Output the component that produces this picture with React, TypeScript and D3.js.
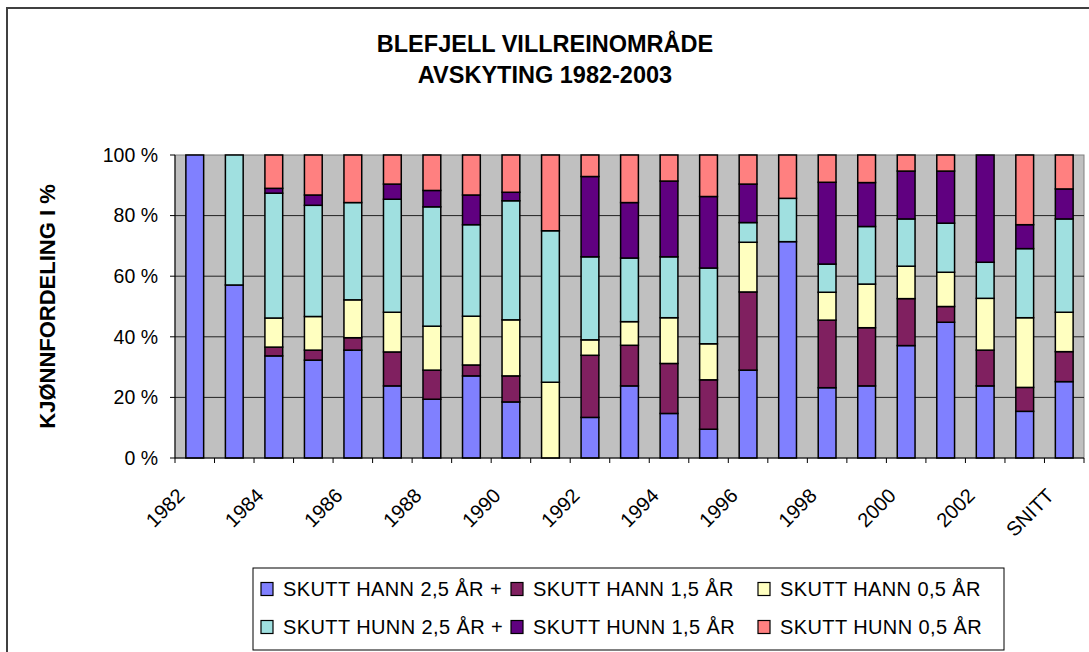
import React from 'react';
import * as d3 from 'd3';

// categories (x axis)
const years = [
  '1982', '1983', '1984', '1985', '1986', '1987', '1988', '1989', '1990', '1991', '1992',
  '1993', '1994', '1995', '1996', '1997', '1998', '1999', '2000', '2001', '2002', '2003', 'SNITT',
];

// percentage shares per category
const hann25 = [100, 57.1, 33.7, 32.3, 35.6, 23.8, 19.4, 27.1, 18.5, 0, 13.4, 23.8, 14.7, 9.5, 29.0, 71.4, 23.2, 23.8, 37.1, 44.8, 23.8, 15.4, 25.2];
const hann15 = [0, 0, 2.9, 3.3, 4.1, 11.2, 9.6, 3.6, 8.6, 0, 20.5, 13.4, 16.5, 16.3, 25.8, 0, 22.3, 19.2, 15.5, 5.2, 11.8, 7.9, 9.9];
const hann05 = [0, 0, 9.6, 11.1, 12.5, 13.1, 14.5, 16.1, 18.5, 25, 5.1, 7.8, 15.1, 11.9, 16.4, 0, 9.2, 14.4, 10.7, 11.3, 17.1, 23.0, 13.0];
const hunn25 = [0, 42.9, 41.2, 36.7, 32.1, 37.3, 39.4, 30.2, 39.3, 50, 27.4, 21.0, 20.1, 25.0, 6.5, 14.3, 9.3, 19.0, 15.6, 16.2, 11.9, 22.8, 30.8];
const hunn15 = [0, 0, 1.6, 3.4, 0, 5.0, 5.4, 9.8, 2.8, 0, 26.5, 18.3, 25.0, 23.6, 12.7, 0, 27.0, 14.5, 15.8, 17.2, 35.4, 7.9, 9.9];
const hunn05 = [0, 0, 11.0, 13.2, 15.7, 9.6, 11.7, 13.2, 12.3, 25, 7.1, 15.7, 8.6, 13.7, 9.6, 14.3, 9.0, 9.1, 5.3, 5.3, 0, 23.0, 11.2];

const seriesNames = [
  'SKUTT HANN 2,5 ÅR +', 'SKUTT HANN 1,5 ÅR', 'SKUTT HANN 0,5 ÅR',
  'SKUTT HUNN 2,5 ÅR +', 'SKUTT HUNN 1,5 ÅR', 'SKUTT HUNN 0,5 ÅR',
];
const seriesValues = [hann25, hann15, hann05, hunn25, hunn15, hunn05];
const colors = ['#8080ff', '#802060', '#ffffc0', '#a0e0e0', '#600080', '#ff8080'];
const yTicks = [0, 20, 40, 60, 80, 100];

const font = 'Arial, "Liberation Sans", sans-serif';

export default function App() {
  const width = 1089;
  const height = 652;
  const plot = { left: 175, right: 1084, top: 155, bottom: 458 };

  const x = d3.scaleBand().domain(years).range([plot.left, plot.right]).paddingInner(0.55).paddingOuter(0.275);
  const xb = d3.scaleBand().domain(years).range([plot.left, plot.right]);
  const y = d3.scaleLinear().domain([0, 100]).range([plot.bottom, plot.top]);

  // normalise each column to 100 %
  const rows = years.map((yr, i) => {
    const row: any = { year: yr };
    const total = d3.sum(seriesValues, (s) => s[i]);
    seriesNames.forEach((n, k) => { row[n] = (seriesValues[k][i] / total) * 100; });
    return row;
  });
  const stacked = d3.stack().keys(seriesNames)(rows);

  return (
    <svg width={width} height={height} style={{ display: 'block', position: 'absolute', left: 0, top: 0 }} fontFamily={font}>
      <rect x={0} y={0} width={width} height={height} fill="#fff" />
      <rect x={7} y={8} width={width + 20} height={height + 20} fill="none" stroke="#404040" strokeWidth={2} />

      <text x={545} y={52} textAnchor="middle" fontSize={23.5} fontWeight="bold">BLEFJELL VILLREINOMRÅDE</text>
      <text x={545} y={83} textAnchor="middle" fontSize={23.5} fontWeight="bold">AVSKYTING 1982-2003</text>

      <rect x={plot.left} y={plot.top} width={plot.right - plot.left} height={plot.bottom - plot.top} fill="#c0c0c0" stroke="#808080" strokeWidth={1} />
      {yTicks.map((t) => (
        <g key={t}>
          {t > 0 && t < 100 && <line x1={plot.left} x2={plot.right} y1={y(t)} y2={y(t)} stroke="#222" strokeWidth={1} />}
          <line x1={plot.left - 5} x2={plot.left} y1={y(t)} y2={y(t)} stroke="#000" />
          <text x={158} y={y(t)} dy="0.35em" textAnchor="end" fontSize={19.5}>{t} %</text>
        </g>
      ))}

      {stacked.map((s, k) => (
        <g key={s.key} fill={colors[k]}>
          {s.map((d, i) => (d[1] - d[0] > 0.01 ? (
            <rect key={i} x={x(years[i])} y={y(d[1])} width={x.bandwidth()} height={y(d[0]) - y(d[1])} stroke="#000" strokeWidth={1.5} />
          ) : null))}
        </g>
      ))}

      <line x1={plot.left} x2={plot.left} y1={plot.top} y2={plot.bottom} stroke="#000" />
      <line x1={plot.left} x2={plot.right} y1={plot.bottom} y2={plot.bottom} stroke="#000" />
      {years.map((yr) => (
        <line key={yr} x1={xb(yr)} x2={xb(yr)} y1={plot.bottom} y2={plot.bottom + 5} stroke="#000" />
      ))}
      <line x1={plot.right} x2={plot.right} y1={plot.bottom} y2={plot.bottom + 5} stroke="#000" />
      {years.map((yr, i) => (i % 2 === 0 ? (
        <text key={yr} transform={`translate(${xb(yr)! + xb.bandwidth() / 2 - 9},${plot.bottom + 39}) rotate(-45)`} textAnchor="end" fontSize={20}>{yr}</text>
      ) : null))}

      <text transform={`translate(55,${(plot.top + plot.bottom) / 2}) rotate(-90)`} textAnchor="middle" fontSize={22} fontWeight="bold">KJØNNFORDELING I %</text>

      <rect x={253} y={568} width={751} height={82} fill="#fff" stroke="#000" strokeWidth={1} />
      {seriesNames.map((n, k) => {
        const col = k % 3;
        const row = Math.floor(k / 3);
        const lx = [261, 511, 758][col];
        const ly = [589, 627][row];
        return (
          <g key={n}>
            <rect x={lx} y={ly - 6.5} width={12} height={13} fill={colors[k]} stroke="#000" strokeWidth={1.2} />
            <text x={lx + 22} y={ly} dy="0.35em" fontSize={20} letterSpacing={0.4}>{n}</text>
          </g>
        );
      })}
    </svg>
  );
}
